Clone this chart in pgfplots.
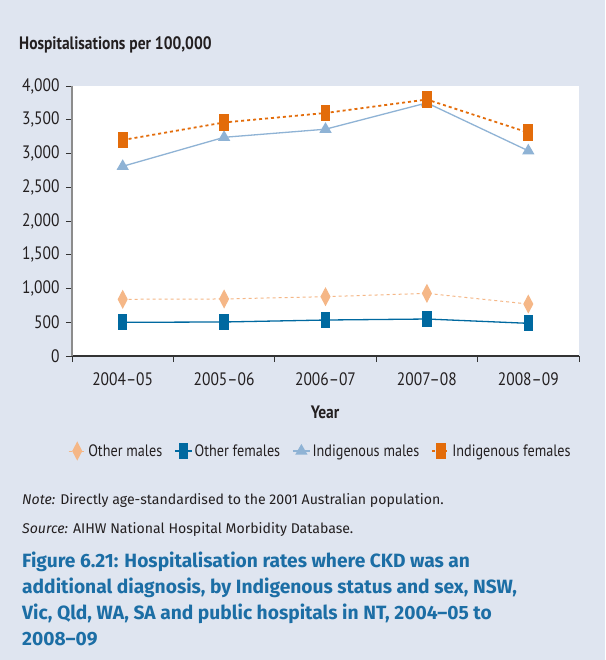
\documentclass[border=0pt]{standalone}
\usepackage{pgfplots}
\pgfplotsset{compat=1.18}
\usepackage{fontspec}
\setmainfont[FakeStretch=0.86]{PT Sans}
\newfontfamily\capfont{Fira Sans}
\definecolor{bg}{RGB}{223,229,240}
\definecolor{omale}{RGB}{245,183,135}
\definecolor{ofem}{RGB}{0,105,160}
\definecolor{imale}{RGB}{143,179,213}
\definecolor{ifem}{RGB}{227,108,10}
\definecolor{captxt}{RGB}{28,110,165}
\definecolor{txt}{RGB}{35,31,32}
\begin{document}
\begin{tikzpicture}
\fill[bg] (0,0) rectangle (605pt,-660pt);
\node[anchor=west, font=\bfseries\fontsize{18}{18}\selectfont, text=txt, inner sep=0pt] at (19pt,-45pt) {Hospitalisations per 100,000};
\begin{axis}[
  at={(72pt,-356pt)}, anchor=south west,
  width=507pt, height=270pt, scale only axis,
  xmin=0.5, xmax=5.5, ymin=0, ymax=4000,
  clip=false,
  axis x line*=bottom, axis y line*=left,
  axis background/.style={fill=white},
  ytick={0,500,...,4000},
  xtick={1,2,3,4,5},
  xticklabels={2004–05,2005–06,2006–07,2007–08,2008–09},
  minor xtick={0.5,1.5,2.5,3.5,4.5,5.5},
  major x tick style={draw=none},
  minor x tick style={draw=black!80, line width=0.8pt},
  y tick style={draw=black!80, line width=0.8pt},
  tick align=outside,
  major tick length=6pt, minor tick length=6pt,
  x axis line style={draw=black!80, line width=1.2pt},
  y axis line style={draw=black!45, line width=2pt},
  /pgf/number format/assume math mode=true,
  /pgf/number format/1000 sep={,},
  scaled y ticks=false,
  yticklabel style={font=\fontsize{18}{18}\selectfont, text=txt, xshift=-3pt},
  xticklabel style={font=\fontsize{18}{18}\selectfont, text=txt, yshift=-7pt},
  legend columns=4,
  legend style={draw=none, fill=none, at={(0.49,-0.352)}, anchor=center,
    font=\fontsize{16.5}{16.5}\selectfont, text=txt,
    /tikz/every even column/.append style={column sep=10pt}},
]
\addplot[omale, dashed, line width=1pt, mark=diamond*, mark size=8.5pt, mark options={solid, xscale=0.7, fill=omale, draw=omale}]
  coordinates {(1,840) (2,845) (3,879) (4,928) (5,770)};
\addlegendentry{Other males}
\addplot[ofem, line width=1.3pt, mark=square*, mark size=7.5pt, mark options={solid, xscale=0.53, fill=ofem, draw=ofem}]
  coordinates {(1,499) (2,504) (3,533) (4,548) (5,484)};
\addlegendentry{Other females}
\addplot[imale, line width=1.3pt, mark=triangle*, mark size=5.8pt, mark options={solid, fill=imale, draw=imale}]
  coordinates {(1,2810) (2,3240) (3,3360) (4,3750) (5,3040)};
\addlegendentry{Indigenous males}
\addplot[ifem, dashed, line width=1.8pt, mark=square*, mark size=7.5pt, mark options={solid, xscale=0.53, fill=ifem, draw=ifem}]
  coordinates {(1,3200) (2,3460) (3,3600) (4,3800) (5,3310)};
\addlegendentry{Indigenous females}
\end{axis}
\node[font=\bfseries\fontsize{18}{18}\selectfont, text=txt] at (325pt,-412pt) {Year};
\node[anchor=west, font=\capfont\fontsize{14.1}{14.1}\selectfont, text=txt, inner sep=0pt] at (22pt,-500pt) {\textit{Note:} Directly age-standardised to the 2001 Australian population.};
\node[anchor=west, font=\capfont\fontsize{14.1}{14.1}\selectfont, text=txt, inner sep=0pt] at (22pt,-529pt) {\textit{Source:} AIHW National Hospital Morbidity Database.};
\node[anchor=north west, align=left, font=\capfont\bfseries\fontsize{19.2}{25.8}\selectfont, text=captxt, inner sep=0pt] at (22pt,-552pt) {Figure 6.21: Hospitalisation rates where CKD was an\\additional diagnosis, by Indigenous status and sex, NSW,\\Vic, Qld, WA, SA and public hospitals in NT, 2004–05 to\\2008–09};
\end{tikzpicture}
\end{document}
